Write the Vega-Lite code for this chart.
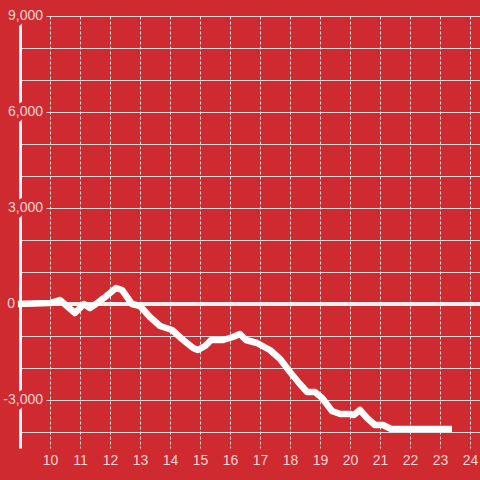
{
  "$schema": "https://vega.github.io/schema/vega-lite/v6.json",
  "autosize": "none",
  "width": 460,
  "height": 432,
  "padding": {"left": 20, "top": 16, "right": 0, "bottom": 32},
  "background": "#ce2a2f",
  "config": {"view": {"stroke": null}},
  "datasets": {
    "series": [
      {"x": 8.93, "y": 0}, {"x": 10.0, "y": 31}, {"x": 10.33, "y": 125}, {"x": 10.83, "y": -281},
      {"x": 11.13, "y": 0}, {"x": 11.33, "y": -125}, {"x": 11.53, "y": 0}, {"x": 11.8, "y": 188},
      {"x": 12.0, "y": 344}, {"x": 12.2, "y": 500}, {"x": 12.4, "y": 438}, {"x": 12.73, "y": 0},
      {"x": 13.0, "y": -63}, {"x": 13.33, "y": -406}, {"x": 13.67, "y": -688}, {"x": 14.07, "y": -813},
      {"x": 14.4, "y": -1094}, {"x": 14.77, "y": -1375}, {"x": 14.93, "y": -1438}, {"x": 15.17, "y": -1313},
      {"x": 15.37, "y": -1125}, {"x": 15.77, "y": -1125}, {"x": 16.1, "y": -1031}, {"x": 16.33, "y": -938},
      {"x": 16.53, "y": -1125}, {"x": 16.9, "y": -1219}, {"x": 17.33, "y": -1438}, {"x": 17.67, "y": -1719},
      {"x": 18.0, "y": -2125}, {"x": 18.33, "y": -2500}, {"x": 18.57, "y": -2750}, {"x": 18.83, "y": -2750},
      {"x": 19.07, "y": -2938}, {"x": 19.4, "y": -3344}, {"x": 19.67, "y": -3438}, {"x": 20.0, "y": -3438},
      {"x": 20.13, "y": -3469}, {"x": 20.33, "y": -3313}, {"x": 20.57, "y": -3563}, {"x": 20.83, "y": -3781},
      {"x": 21.1, "y": -3781}, {"x": 21.37, "y": -3906}, {"x": 23.4, "y": -3906}
    ],
    "ylabels": [
      {"v": 9000, "label": "9,000"},
      {"v": 6000, "label": "6,000"},
      {"v": 3000, "label": "3,000"},
      {"v": -3000, "label": "-3,000"}
    ],
    "zerolabel": [
      {"v": 0, "label": "0"}
    ]
  },
  "encoding": {
    "x": {
      "type": "quantitative",
      "scale": {"domain": [9, 24.3333], "nice": false, "zero": false},
      "axis": {
        "title": null, "values": [10, 11, 12, 13, 14, 15, 16, 17, 18, 19, 20, 21, 22, 23, 24],
        "tickCount": 15,
        "domain": false, "ticks": false, "labelPadding": 5, "labelOverlap": false,
        "labelFont": "Liberation Sans", "labelFontSize": 14, "labelColor": "#f5d4d5",
        "grid": true, "gridColor": "#dddddd", "gridWidth": 1, "gridDash": [3, 2]
      }
    },
    "y": {
      "type": "quantitative",
      "scale": {"domain": [-4500, 9000], "nice": false, "zero": false},
      "axis": {
        "title": null,
        "values": [-4000, -3000, -2000, -1000, 0, 1000, 2000, 3000, 4000, 5000, 6000, 7000, 8000, 9000],
        "tickCount": 14,
        "labels": false, "ticks": false, "labelOverlap": false,
        "domain": true, "domainColor": "#f7f7f7", "domainWidth": 3,
        "grid": true, "gridColor": "#d9d9d9", "gridWidth": 1
      }
    }
  },
  "layer": [
    {
      "data": {"name": "series"},
      "mark": {"type": "rule", "color": "#f0f0f0", "strokeWidth": 3},
      "encoding": {
        "x": null,
        "y": {"datum": 0, "type": "quantitative"}
      }
    },
    {
      "data": {"name": "series"},
      "mark": {"type": "line", "color": "#ffffff", "strokeWidth": 6.5, "strokeJoin": "round", "strokeCap": "butt"},
      "encoding": {
        "x": {"field": "x", "type": "quantitative"},
        "y": {"field": "y", "type": "quantitative"}
      }
    },
    {
      "data": {"name": "ylabels"},
      "mark": {"type": "text", "align": "right", "baseline": "middle", "dx": 23, "font": "Liberation Sans", "fontSize": 14, "fill": "#ce2a2f", "stroke": "#ce2a2f", "strokeWidth": 8, "strokeJoin": "round"},
      "encoding": {
        "x": {"datum": 9, "type": "quantitative"},
        "y": {"field": "v", "type": "quantitative"},
        "text": {"field": "label"}
      }
    },
    {
      "data": {"name": "ylabels"},
      "mark": {"type": "text", "align": "right", "baseline": "middle", "dx": 23, "font": "Liberation Sans", "fontSize": 14, "fill": "#f5d4d5"},
      "encoding": {
        "x": {"datum": 9, "type": "quantitative"},
        "y": {"field": "v", "type": "quantitative"},
        "text": {"field": "label"}
      }
    },
    {
      "data": {"name": "zerolabel"},
      "mark": {"type": "text", "align": "right", "baseline": "middle", "dx": -5, "font": "Liberation Sans", "fontSize": 14, "fill": "#f5d4d5"},
      "encoding": {
        "x": {"datum": 9, "type": "quantitative"},
        "y": {"field": "v", "type": "quantitative"},
        "text": {"field": "label"}
      }
    }
  ]
}
